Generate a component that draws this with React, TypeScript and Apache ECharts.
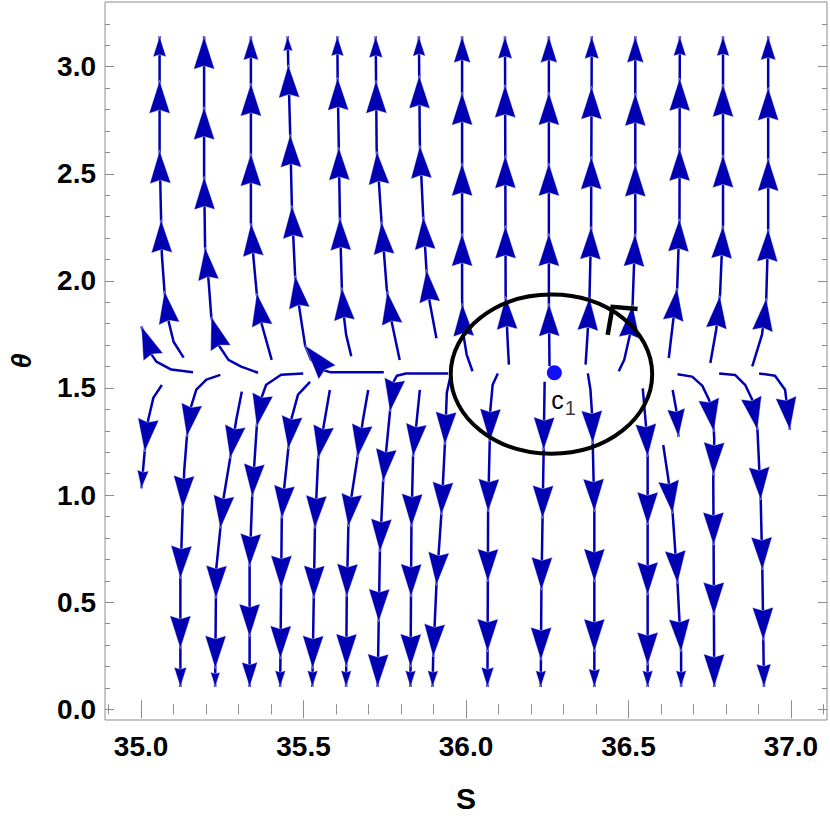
import React, { useEffect, useRef } from 'react';
import * as echarts from 'echarts';

// ---- axis ranges & ticks ----
const X_MIN = 34.889;
const X_MAX = 37.111;
const Y_MIN = -0.05;
const Y_MAX = 3.302;
const xMajor = [35.0, 35.5, 36.0, 36.5, 37.0];
const xMinor = [34.9, 35.1, 35.2, 35.3, 35.4, 35.6, 35.7, 35.8, 35.9, 36.1, 36.2, 36.3, 36.4, 36.6, 36.7, 36.8, 36.9, 37.1];
const yMajor = [0.0, 0.5, 1.0, 1.5, 2.0, 2.5, 3.0];
const yMinor = [0.1, 0.2, 0.3, 0.4, 0.6, 0.7, 0.8, 0.9, 1.1, 1.2, 1.3, 1.4, 1.6, 1.7, 1.8, 1.9, 2.1, 2.2, 2.3, 2.4, 2.6, 2.7, 2.8, 2.9, 3.1, 3.2];

// ---- upward stream lines (flow order: bottom -> top), [S, theta] ----
const upLines: number[][][] = [
  [[35.160, 1.573], [35.093, 1.586], [35.047, 1.623], [35.022, 1.679], [35.001, 1.788]],
  [[35.131, 1.642], [35.100, 1.716], [35.085, 1.810], [35.072, 1.953], [35.064, 2.123], [35.057, 2.609], [35.057, 3.142]],
  [[35.360, 1.571], [35.308, 1.600], [35.269, 1.631], [35.238, 1.702], [35.216, 1.833], [35.208, 1.997], [35.197, 2.157], [35.194, 2.497], [35.194, 3.142]],
  [[35.402, 1.631], [35.372, 1.794], [35.356, 1.942], [35.346, 2.106], [35.338, 2.277], [35.338, 3.142]],
  [[35.747, 1.573], [35.584, 1.573], [35.554, 1.586], [35.523, 1.632], [35.505, 1.698], [35.484, 1.903], [35.474, 2.025], [35.464, 2.352], [35.459, 2.684], [35.453, 3.009], [35.451, 3.142]],
  [[35.647, 1.648], [35.631, 1.749], [35.619, 1.903], [35.612, 2.293], [35.605, 2.950], [35.604, 3.142]],
  [[35.796, 1.631], [35.771, 1.810], [35.756, 1.965], [35.740, 2.277], [35.725, 2.620], [35.722, 3.142]],
  [[35.909, 1.732], [35.888, 1.903], [35.878, 2.059], [35.868, 2.308], [35.858, 2.636], [35.855, 3.142]],
  [[36.020, 1.578], [36.002, 1.656], [35.993, 1.740], [35.988, 1.913], [35.988, 3.142]],
  [[36.132, 1.609], [36.128, 1.726], [36.122, 1.931], [36.120, 3.142]],
  [[36.257, 1.601], [36.255, 1.922], [36.255, 3.142]],
  [[36.368, 1.609], [36.374, 1.749], [36.380, 1.922], [36.385, 2.240], [36.387, 3.142]],
  [[36.470, 1.578], [36.487, 1.632], [36.508, 1.772], [36.513, 1.899], [36.521, 2.240], [36.521, 3.142]],
  [[36.624, 1.640], [36.638, 1.819], [36.650, 1.969], [36.657, 2.286], [36.658, 3.142]],
  [[36.752, 1.617], [36.770, 1.772], [36.782, 1.941], [36.791, 2.263], [36.791, 3.142]],
  [[36.881, 1.601], [36.911, 1.749], [36.924, 1.913], [36.930, 2.240], [36.930, 3.142]],
];

// arrow heads on the upward lines: [theta of tip, relative size]
const upArrows: number[][][] = [
  [[1.788, 1]],
  [[1.953, 1], [2.285, 1], [2.609, 1], [2.936, 1], [3.142, 0.62]],
  [[1.833, 1], [2.157, 1], [2.487, 1], [2.813, 1], [3.142, 1]],
  [[1.942, 1], [2.269, 1], [2.596, 1], [2.923, 1], [3.142, 0.72]],
  [[1.698, 1.05], [2.025, 1], [2.352, 1], [2.684, 1], [3.009, 1], [3.142, 0.45]],
  [[1.969, 1], [2.296, 1], [2.624, 1], [2.950, 1], [3.142, 0.6]],
  [[1.950, 1], [2.277, 1], [2.604, 1], [2.936, 1], [3.142, 0.65]],
  [[2.053, 1], [2.300, 1], [2.632, 1], [2.959, 1], [3.142, 0.6]],
  [[1.895, 1], [2.222, 1], [2.550, 1], [2.881, 1], [3.142, 0.8]],
  [[1.927, 1], [2.258, 1], [2.586, 1], [2.916, 1], [3.142, 0.68]],
  [[1.895, 1], [2.222, 1], [2.550, 1], [2.881, 1], [3.142, 0.8]],
  [[1.922, 1], [2.254, 1], [2.581, 1], [2.908, 1], [3.142, 0.68]],
  [[1.888, 1], [2.220, 1], [2.547, 1], [2.877, 1], [3.142, 0.8]],
  [[1.967, 1], [2.290, 1], [2.620, 1], [2.947, 1], [3.142, 0.6]],
  [[1.931, 1], [2.258, 1], [2.589, 1], [2.919, 1], [3.142, 0.6]],
  [[1.919, 1], [2.243, 1], [2.573, 1], [2.903, 1], [3.142, 0.72]],
];

// ---- downward stream lines (flow order: top -> bottom) ----
const downLines: number[][][] = [
  [[35.064, 1.514], [35.038, 1.455], [35.022, 1.352], [35.011, 1.202], [35.001, 1.031]],
  [[35.244, 1.561], [35.201, 1.539], [35.170, 1.492], [35.151, 1.399], [35.141, 1.272], [35.133, 1.118], [35.128, 0.937], [35.121, 0.610], [35.121, 0.104]],
  [[35.310, 1.483], [35.293, 1.352], [35.274, 1.171], [35.253, 0.978], [35.244, 0.844], [35.231, 0.651], [35.228, 0.104]],
  [[35.499, 1.568], [35.431, 1.562], [35.385, 1.515], [35.363, 1.422], [35.356, 1.319], [35.342, 0.992], [35.334, 0.666], [35.334, 0.104]],
  [[35.520, 1.529], [35.483, 1.469], [35.462, 1.352], [35.453, 1.215], [35.440, 1.025], [35.433, 0.891], [35.428, 0.104]],
  [[35.581, 1.491], [35.560, 1.305], [35.545, 1.171], [35.535, 0.844], [35.527, 0.104]],
  [[35.699, 1.491], [35.683, 1.352], [35.666, 1.176], [35.646, 0.978], [35.638, 0.852], [35.633, 0.525], [35.631, 0.104]],
  [[35.945, 1.568], [35.815, 1.568], [35.787, 1.557], [35.772, 1.515], [35.766, 1.389], [35.745, 1.062], [35.735, 0.735], [35.728, 0.104]],
  [[35.858, 1.491], [35.837, 1.179], [35.832, 0.852], [35.829, 0.104]],
  [[35.953, 1.562], [35.941, 1.478], [35.935, 1.235], [35.924, 0.907], [35.909, 0.579], [35.899, 0.244], [35.897, 0.104]],
  [[36.098, 1.568], [36.082, 1.515], [36.075, 1.399], [36.073, 1.249], [36.068, 0.922], [36.066, 0.104]],
  [[36.242, 1.529], [36.239, 1.212], [36.232, 0.557], [36.230, 0.104]],
  [[36.375, 1.568], [36.383, 1.492], [36.389, 1.352], [36.390, 1.241], [36.395, 0.922], [36.395, 0.104]],
  [[36.544, 1.498], [36.555, 1.305], [36.559, 1.179], [36.559, 0.104]],
  [[36.636, 1.491], [36.647, 1.399], [36.654, 1.272]],
  [[36.607, 1.234], [36.623, 1.072], [36.636, 0.914], [36.651, 0.587], [36.662, 0.268], [36.662, 0.104]],
  [[36.651, 1.564], [36.696, 1.553], [36.727, 1.511], [36.748, 1.445], [36.761, 1.361], [36.764, 1.258], [36.761, 1.072], [36.762, 0.768], [36.764, 0.104]],
  [[36.779, 1.568], [36.828, 1.561], [36.859, 1.515], [36.881, 1.445], [36.897, 1.304], [36.907, 0.977], [36.912, 0.651], [36.917, 0.104]],
  [[36.902, 1.568], [36.951, 1.557], [36.982, 1.492], [36.997, 1.304]],
];

const downArrows: number[][][] = [
  [[1.202, 1], [1.031, 0.55]],
  [[1.272, 1], [0.937, 1], [0.610, 1], [0.283, 1], [0.104, 0.6]],
  [[1.171, 1], [0.844, 1], [0.517, 1], [0.190, 1], [0.104, 0.45]],
  [[1.319, 1], [0.992, 1], [0.666, 1], [0.338, 1], [0.104, 0.75]],
  [[1.215, 1], [0.891, 1], [0.564, 1], [0.236, 1], [0.104, 0.5]],
  [[1.171, 1], [0.844, 1], [0.517, 1], [0.190, 1], [0.104, 0.5]],
  [[1.176, 1], [0.852, 1], [0.525, 1], [0.198, 1], [0.104, 0.5]],
  [[1.389, 1], [1.062, 1], [0.735, 1], [0.408, 1], [0.104, 1]],
  [[1.179, 1], [0.852, 1], [0.525, 1], [0.198, 1], [0.104, 0.5]],
  [[1.235, 1], [0.907, 1], [0.579, 1], [0.244, 1], [0.104, 0.5]],
  [[1.249, 1], [0.922, 1], [0.595, 1], [0.268, 1], [0.104, 0.6]],
  [[1.210, 1], [0.891, 1], [0.556, 1], [0.229, 1], [0.104, 0.5]],
  [[1.241, 1], [0.922, 1], [0.595, 1], [0.268, 1], [0.104, 0.55]],
  [[1.179, 1], [0.860, 1], [0.533, 1], [0.206, 1], [0.104, 0.5]],
  [[1.272, 0.85]],
  [[0.914, 1], [0.587, 1], [0.268, 1], [0.104, 0.5]],
  [[1.296, 1], [1.093, 1], [0.766, 1], [0.439, 1], [0.104, 1]],
  [[1.304, 1], [0.977, 1], [0.650, 1], [0.322, 1], [0.104, 0.7]],
  [[1.304, 1]],
];

// ---- critical point, closed orbit and its direction mark ----
const c1Point = [36.272, 1.5708];
const ellipseCenter = [36.263, 1.5645];
const ellipseRadii = [0.31, 0.3715];
const orbitMark = [[36.436, 1.748], [36.451, 1.879], [36.528, 1.869]];

const BLUE = 'rgb(0,0,178)';
const FRAME = '#8c8c8c';
const FONT = 'Liberation Sans, Arial, sans-serif';

const allLines = [...upLines, ...downLines];
const allArrows = [...upArrows, ...downArrows];

function buildStream(pts: number[][], arrows: number[][], api: any) {
  const P = pts.map((p) => api.coord(p) as number[]);
  const cum = [0];
  for (let i = 1; i < P.length; i++) {
    cum.push(cum[i - 1] + Math.hypot(P[i][0] - P[i - 1][0], P[i][1] - P[i - 1][1]));
  }
  const pointAt = (s: number) => {
    if (s <= 0) {
      const dx = P[1][0] - P[0][0];
      const dy = P[1][1] - P[0][1];
      const l = Math.hypot(dx, dy) || 1;
      return [P[0][0] + (dx / l) * s, P[0][1] + (dy / l) * s];
    }
    for (let i = 0; i < P.length - 1; i++) {
      if (s <= cum[i + 1]) {
        const seg = cum[i + 1] - cum[i] || 1;
        const t = (s - cum[i]) / seg;
        return [P[i][0] + (P[i + 1][0] - P[i][0]) * t, P[i][1] + (P[i + 1][1] - P[i][1]) * t];
      }
    }
    return P[P.length - 1];
  };
  const children: any[] = [
    {
      type: 'polyline',
      shape: { points: P },
      style: { stroke: BLUE, lineWidth: 2.5, fill: null, lineJoin: 'round', lineCap: 'butt' },
      silent: true,
    },
  ];
  for (const [th, sc] of arrows) {
    const ty = api.coord([pts[0][0], th])[1];
    let s = -1;
    let tip: number[] | null = null;
    for (let i = 0; i < P.length - 1; i++) {
      const y0 = P[i][1];
      const y1 = P[i + 1][1];
      if (y0 !== y1 && (ty - y0) * (ty - y1) <= 0) {
        const t = (ty - y0) / (y1 - y0);
        tip = [P[i][0] + (P[i + 1][0] - P[i][0]) * t, ty];
        s = cum[i] + (cum[i + 1] - cum[i]) * t;
        break;
      }
    }
    if (!tip) continue;
    const L = 33 * sc;
    const W = 21 * sc;
    const b = pointAt(s - L);
    let dx = tip[0] - b[0];
    let dy = tip[1] - b[1];
    const dl = Math.hypot(dx, dy) || 1;
    dx /= dl;
    dy /= dl;
    const B = [tip[0] - dx * L, tip[1] - dy * L];
    const nx = -dy;
    const ny = dx;
    const notch = [tip[0] - dx * L * 0.9, tip[1] - dy * L * 0.9];
    children.push({
      type: 'polygon',
      shape: {
        points: [
          tip,
          [B[0] + (nx * W) / 2, B[1] + (ny * W) / 2],
          notch,
          [B[0] - (nx * W) / 2, B[1] - (ny * W) / 2],
        ],
      },
      style: { fill: BLUE, stroke: '#ffffff', lineWidth: 0.4 },
      silent: true,
    });
  }
  return children;
}

function makeOption(): any {
  const axisCommon = {
    type: 'value',
    splitLine: { show: false },
    axisLine: { show: false },
  };
  const tickStyle = { color: FRAME, width: 1 };
  return {
    animation: false,
    backgroundColor: '#ffffff',
    textStyle: { fontFamily: FONT },
    grid: { left: 104, right: 3, top: 2, bottom: 101, show: true, borderColor: FRAME, borderWidth: 1 },
    xAxis: [
      {
        ...axisCommon,
        min: X_MIN,
        max: X_MAX,
        position: 'bottom',
        axisTick: { show: true, inside: true, length: 9, customValues: xMajor, lineStyle: tickStyle },
        axisLabel: {
          customValues: xMajor,
          formatter: (v: number) => v.toFixed(1),
          fontSize: 28,
          fontWeight: 'bold',
          color: '#000',
          margin: 12,
          fontFamily: FONT,
        },
        name: 'S',
        nameLocation: 'middle',
        nameGap: 63,
        nameTextStyle: { fontSize: 30, fontWeight: 'bold', color: '#000', fontFamily: FONT },
      },
      {
        ...axisCommon,
        min: X_MIN,
        max: X_MAX,
        position: 'bottom',
        axisTick: { show: true, inside: true, length: 5, customValues: xMinor, lineStyle: tickStyle },
        axisLabel: { show: false },
      },
      {
        ...axisCommon,
        min: X_MIN,
        max: X_MAX,
        position: 'top',
        axisTick: { show: true, inside: true, length: 9, customValues: xMajor, lineStyle: tickStyle },
        axisLabel: { show: false },
      },
      {
        ...axisCommon,
        min: X_MIN,
        max: X_MAX,
        position: 'top',
        axisTick: { show: true, inside: true, length: 5, customValues: xMinor, lineStyle: tickStyle },
        axisLabel: { show: false },
      },
    ],
    yAxis: [
      {
        ...axisCommon,
        min: Y_MIN,
        max: Y_MAX,
        position: 'left',
        axisTick: { show: true, inside: true, length: 9, customValues: yMajor, lineStyle: tickStyle },
        axisLabel: {
          customValues: yMajor,
          formatter: (v: number) => v.toFixed(1),
          fontSize: 28,
          fontWeight: 'bold',
          color: '#000',
          margin: 9,
          fontFamily: FONT,
        },
        name: 'θ',
        nameLocation: 'middle',
        nameGap: 70,
        nameTextStyle: { fontSize: 27, fontWeight: 'bold', fontStyle: 'italic', color: '#000', fontFamily: FONT },
      },
      {
        ...axisCommon,
        min: Y_MIN,
        max: Y_MAX,
        position: 'left',
        axisTick: { show: true, inside: true, length: 5, customValues: yMinor, lineStyle: tickStyle },
        axisLabel: { show: false },
      },
      {
        ...axisCommon,
        min: Y_MIN,
        max: Y_MAX,
        position: 'right',
        axisTick: { show: true, inside: true, length: 9, customValues: yMajor, lineStyle: tickStyle },
        axisLabel: { show: false },
      },
      {
        ...axisCommon,
        min: Y_MIN,
        max: Y_MAX,
        position: 'right',
        axisTick: { show: true, inside: true, length: 5, customValues: yMinor, lineStyle: tickStyle },
        axisLabel: { show: false },
      },
    ],
    series: [
      {
        type: 'custom',
        name: 'streams',
        xAxisIndex: 0,
        yAxisIndex: 0,
        silent: true,
        z: 2,
        data: allLines.map((l, i) => [l[0][0], l[0][1], i]),
        renderItem: (params: any, api: any) => ({
          type: 'group',
          children: buildStream(allLines[params.dataIndex], allArrows[params.dataIndex], api),
        }),
      },
      {
        type: 'custom',
        name: 'orbit',
        xAxisIndex: 0,
        yAxisIndex: 0,
        silent: true,
        z: 4,
        data: [[ellipseCenter[0], ellipseCenter[1], ellipseRadii[0], ellipseRadii[1]]],
        renderItem: (params: any, api: any) => {
          const c = api.coord([api.value(0), api.value(1)]);
          const sz = api.size([api.value(2), api.value(3)]);
          return {
            type: 'ellipse',
            shape: { cx: c[0], cy: c[1], rx: sz[0], ry: sz[1] },
            style: { fill: null, stroke: '#000', lineWidth: 4 },
          };
        },
      },
      {
        type: 'line',
        name: 'orbitMark',
        xAxisIndex: 0,
        yAxisIndex: 0,
        z: 5,
        silent: true,
        symbol: 'none',
        data: orbitMark,
        lineStyle: { color: '#000', width: 4.5, cap: 'butt', join: 'miter' },
      },
      {
        type: 'scatter',
        name: 'c1',
        xAxisIndex: 0,
        yAxisIndex: 0,
        z: 6,
        silent: true,
        symbolSize: 15,
        itemStyle: { color: '#1010ff', opacity: 1 },
        data: [c1Point],
        label: {
          show: true,
          position: 'inside',
          formatter: 'c',
          offset: [3, 27],
          fontSize: 25,
          color: '#000',
          fontFamily: FONT,
        },
      },
      {
        type: 'scatter',
        name: 'c1sub',
        xAxisIndex: 0,
        yAxisIndex: 0,
        z: 6,
        silent: true,
        symbolSize: 1,
        itemStyle: { color: 'rgba(0,0,0,0)' },
        data: [c1Point],
        label: {
          show: true,
          position: 'inside',
          formatter: '1',
          offset: [16, 35],
          fontSize: 20,
          color: '#000',
          fontFamily: FONT,
        },
      },
    ],
  };
}

export default function App() {
  const ref = useRef<HTMLDivElement>(null);
  useEffect(() => {
    if (!ref.current) return;
    const chart = echarts.init(ref.current, null, { renderer: 'svg' });
    chart.setOption(makeOption());
    return () => {
      chart.dispose();
    };
  }, []);
  return (
    <div
      ref={ref}
      style={{ position: 'fixed', left: 0, top: 0, width: 830, height: 821, background: '#ffffff' }}
    />
  );
}
